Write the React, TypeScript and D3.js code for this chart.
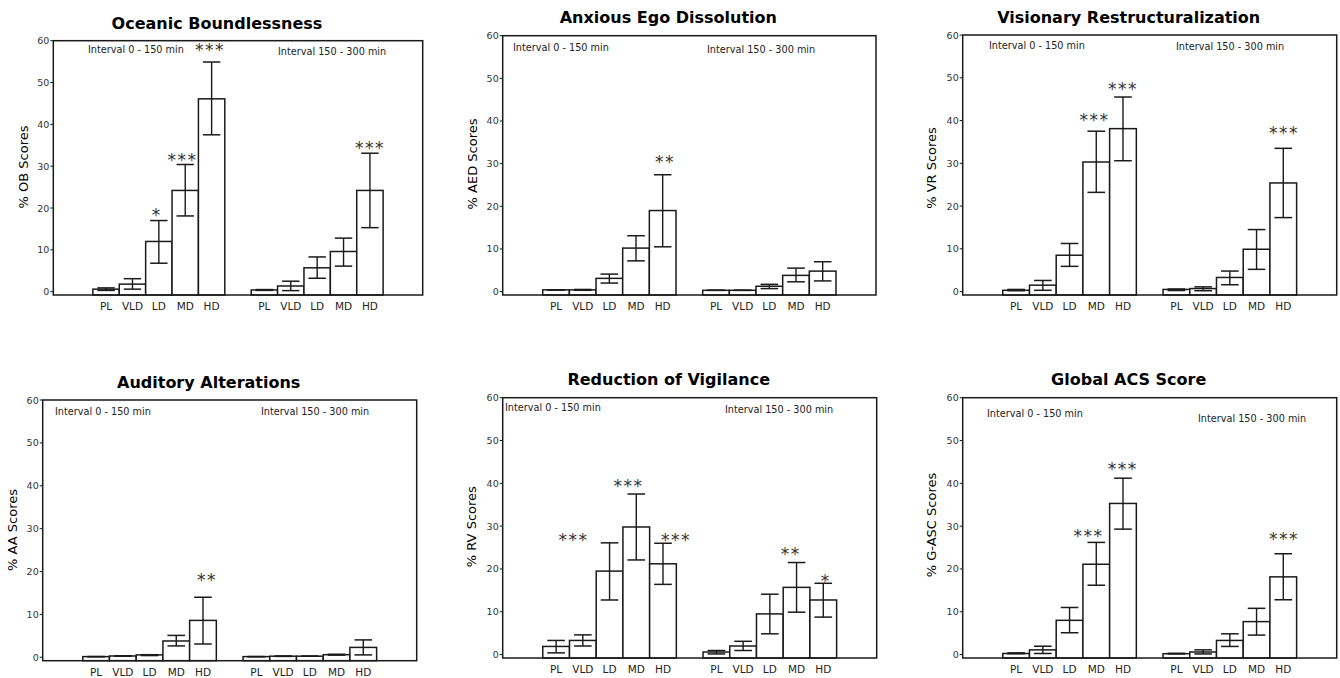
import React from "react";
import * as d3 from "d3";

// groups of doses, shown twice (two time intervals)
const categories = ["PL", "VLD", "LD", "MD", "HD"];
const intervalLabels = ["Interval 0 - 150 min", "Interval 150 - 300 min"];
const yTicks = [0, 10, 20, 30, 40, 50, 60];

// values: first 5 = interval 0-150, last 5 = interval 150-300
const obMean = [0.6, 1.8, 12.0, 24.2, 46.1, 0.4, 1.35, 5.7, 9.6, 24.2];
const obLow = [0.3, 0.6, 6.8, 18.1, 37.5, 0.3, 0.25, 3.2, 6.1, 15.3];
const obHigh = [0.9, 3.1, 17.0, 30.4, 54.9, 0.5, 2.5, 8.3, 12.8, 33.1];

const aedMean = [0.4, 0.4, 3.1, 10.2, 19.0, 0.3, 0.3, 1.25, 3.8, 4.8];
const aedLow = [0.4, 0.3, 2.0, 7.2, 10.5, 0.3, 0.3, 0.7, 2.3, 2.5];
const aedHigh = [0.4, 0.5, 4.1, 13.1, 27.4, 0.3, 0.3, 1.7, 5.5, 7.0];

const vrMean = [0.3, 1.5, 8.5, 30.3, 38.1, 0.5, 0.7, 3.3, 9.9, 25.4];
const vrLow = [0.2, 0.3, 5.9, 23.2, 30.6, 0.25, 0.2, 1.6, 5.2, 17.3];
const vrHigh = [0.5, 2.6, 11.25, 37.5, 45.5, 0.6, 1.1, 4.8, 14.5, 33.5];

const aaMean = [0.15, 0.3, 0.55, 3.8, 8.6, 0.15, 0.25, 0.25, 0.6, 2.3];
const aaLow = [0.15, 0.3, 0.4, 2.65, 3.1, 0.15, 0.2, 0.25, 0.5, 0.55];
const aaHigh = [0.15, 0.3, 0.6, 5.1, 14.0, 0.15, 0.3, 0.25, 0.7, 4.05];

const rvMean = [1.9, 3.3, 19.5, 29.8, 21.2, 0.6, 2.0, 9.5, 15.7, 12.75];
const rvLow = [0.4, 2.0, 12.75, 22.1, 16.4, 0.15, 0.95, 4.85, 9.9, 8.75];
const rvHigh = [3.3, 4.6, 26.1, 37.5, 26.0, 0.95, 3.1, 14.1, 21.5, 16.65];

const gMean = [0.25, 1.1, 8.0, 21.1, 35.3, 0.2, 0.6, 3.3, 7.7, 18.15];
const gLow = [0.2, 0.25, 5.1, 16.2, 29.3, 0.15, 0.15, 1.9, 4.55, 12.8];
const gHigh = [0.4, 1.95, 11.0, 26.2, 41.2, 0.3, 1.1, 4.85, 10.8, 23.55];

// significance marks: bar index, shift in bar widths, height (value units), text
const obStars = [
  { i: 2, dx: -0.08, v: 19.1, s: "*" },
  { i: 3, dx: -0.1, v: 32.4, s: "***" },
  { i: 4, dx: -0.06, v: 58.6, s: "***" },
  { i: 9, dx: 0, v: 35.1, s: "***" },
];
const aedStars = [{ i: 4, dx: 0.09, v: 31.2, s: "**" }];
const vrStars = [
  { i: 3, dx: -0.07, v: 41.0, s: "***" },
  { i: 4, dx: 0, v: 48.2, s: "***" },
  { i: 9, dx: 0.03, v: 37.9, s: "***" },
];
const aaStars = [{ i: 4, dx: 0.15, v: 18.9, s: "**" }];
const rvStars = [
  { i: 1, dx: -0.35, v: 27.6, s: "***" },
  { i: 3, dx: -0.29, v: 40.3, s: "***" },
  { i: 4, dx: 0.49, v: 27.6, s: "***" },
  { i: 8, dx: -0.22, v: 24.2, s: "**" },
  { i: 9, dx: 0.09, v: 18.0, s: "*" },
];
const gStars = [
  { i: 3, dx: -0.29, v: 28.6, s: "***" },
  { i: 4, dx: -0.01, v: 44.2, s: "***" },
  { i: 9, dx: 0.03, v: 27.9, s: "***" },
];

type Star = { i: number; dx: number; v: number; s: string };

interface PanelProps {
  title: string;
  yLabel: string;
  mean: number[];
  low: number[];
  high: number[];
  stars: Star[];
  box: [number, number, number, number]; // left, top, right, bottom
  titleY: number;
  yLabelX: number;
  yLabelY: number;
  intervalPos: [number, number][];
}

const FONT = "'DejaVu Sans', Verdana, sans-serif";

const Panel: React.FC<PanelProps> = ({
  title,
  yLabel,
  mean,
  low,
  high,
  stars,
  box,
  titleY,
  yLabelX,
  yLabelY,
  intervalPos,
}) => {
  const [x0, y0, x1, y1] = box;
  const x = d3.scaleLinear().domain([0, 14]).range([x0, x1]);
  const y = d3.scaleLinear().domain([-0.8, 60]).range([y1, y0]);
  const bw = x(1) - x(0);
  const slot = (i: number) => (i < 5 ? 1.5 + i : 7.5 + (i - 5));
  const capW = bw * 0.66;
  const ink = "#1a1a1a";

  return (
    <g>
      <text
        x={(x0 + x1) / 2 - 21}
        y={titleY}
        textAnchor="middle"
        fontFamily={FONT}
        fontWeight="bold"
        fontSize={16}
      >
        {title}
      </text>
      <text
        transform={`translate(${yLabelX},${yLabelY}) rotate(-90)`}
        textAnchor="middle"
        dominantBaseline="central"
        fontFamily={FONT}
        fontSize={13}
      >
        {yLabel}
      </text>

      {yTicks.map((t) => (
        <g key={t}>
          <line x1={x0 - 3} x2={x0} y1={y(t)} y2={y(t)} stroke={ink} strokeWidth={1} />
          <text
            x={x0 - 4}
            y={y(t) + 3.5}
            textAnchor="end"
            fontFamily={FONT}
            fontSize={9.5}
            fill="#333"
          >
            {t}
          </text>
        </g>
      ))}

      {mean.map((m, i) => {
        const xs = x(slot(i));
        const xc = x(slot(i) + 0.5);
        return (
          <g key={i}>
            <rect
              x={xs}
              y={y(m)}
              width={bw}
              height={y1 - y(m)}
              fill="#fff"
              stroke={ink}
              strokeWidth={1.5}
            />
            <line x1={xc} x2={xc} y1={y(low[i])} y2={y(high[i])} stroke={ink} strokeWidth={1.4} />
            <line
              x1={xc - capW / 2}
              x2={xc + capW / 2}
              y1={y(high[i])}
              y2={y(high[i])}
              stroke={ink}
              strokeWidth={1.5}
            />
            <line
              x1={xc - capW / 2}
              x2={xc + capW / 2}
              y1={y(low[i])}
              y2={y(low[i])}
              stroke={ink}
              strokeWidth={1.5}
            />
            <text
              x={xc}
              y={y1 + 15}
              textAnchor="middle"
              fontFamily={FONT}
              fontSize={10.5}
              fill="#222"
            >
              {categories[i % 5]}
            </text>
          </g>
        );
      })}

      {stars.map((s, k) => (
        <text
          key={k}
          x={x(slot(s.i) + 0.5 + s.dx)}
          y={y(s.v) + 9.5}
          textAnchor="middle"
          fontFamily={FONT}
          fontSize={17}
          letterSpacing={1.5}
          fill="#333"
        >
          {s.s}
        </text>
      ))}

      {intervalLabels.map((lab, k) => (
        <text
          key={lab}
          x={intervalPos[k][0]}
          y={intervalPos[k][1]}
          fontFamily={FONT}
          fontSize={9.7}
          fill="#222"
        >
          {lab}
        </text>
      ))}

      <rect
        x={x0}
        y={y0}
        width={x1 - x0}
        height={y1 - y0}
        fill="none"
        stroke={ink}
        strokeWidth={1.5}
      />
    </g>
  );
};

export default function App() {
  return (
    <svg
      width={1340}
      height={678}
      style={{ position: "absolute", left: 0, top: 0, background: "#fff" }}
    >
      <Panel
        title="Oceanic Boundlessness"
        yLabel="% OB Scores"
        mean={obMean}
        low={obLow}
        high={obHigh}
        stars={obStars}
        box={[53.3, 40.7, 422.7, 295]}
        titleY={29}
        yLabelX={23}
        yLabelY={167}
        intervalPos={[
          [88, 52.5],
          [278, 54.5],
        ]}
      />
      <Panel
        title="Anxious Ego Dissolution"
        yLabel="% AED Scores"
        mean={aedMean}
        low={aedLow}
        high={aedHigh}
        stars={aedStars}
        box={[502.7, 35.7, 876, 295]}
        titleY={23}
        yLabelX={472}
        yLabelY={164}
        intervalPos={[
          [513, 50.5],
          [707, 52.5],
        ]}
      />
      <Panel
        title="Visionary Restructuralization"
        yLabel="% VR Scores"
        mean={vrMean}
        low={vrLow}
        high={vrHigh}
        stars={vrStars}
        box={[962.7, 35, 1336.7, 295]}
        titleY={23}
        yLabelX={931}
        yLabelY={168}
        intervalPos={[
          [989, 48.5],
          [1176, 49.5],
        ]}
      />
      <Panel
        title="Auditory Alterations"
        yLabel="% AA Scores"
        mean={aaMean}
        low={aaLow}
        high={aaHigh}
        stars={aaStars}
        box={[42.7, 400, 416.7, 660.7]}
        titleY={388}
        yLabelX={12.7}
        yLabelY={530}
        intervalPos={[
          [55, 414.5],
          [261, 414.5],
        ]}
      />
      <Panel
        title="Reduction of Vigilance"
        yLabel="% RV Scores"
        mean={rvMean}
        low={rvLow}
        high={rvHigh}
        stars={rvStars}
        box={[502.7, 397.7, 876.7, 658]}
        titleY={385}
        yLabelX={471.7}
        yLabelY={526.7}
        intervalPos={[
          [505, 411],
          [725, 412.5],
        ]}
      />
      <Panel
        title="Global ACS Score"
        yLabel="% G-ASC Scores"
        mean={gMean}
        low={gLow}
        high={gHigh}
        stars={gStars}
        box={[962.7, 397.7, 1336.7, 658]}
        titleY={385}
        yLabelX={931}
        yLabelY={525}
        intervalPos={[
          [987, 416.5],
          [1198, 421.5],
        ]}
      />
    </svg>
  );
}
